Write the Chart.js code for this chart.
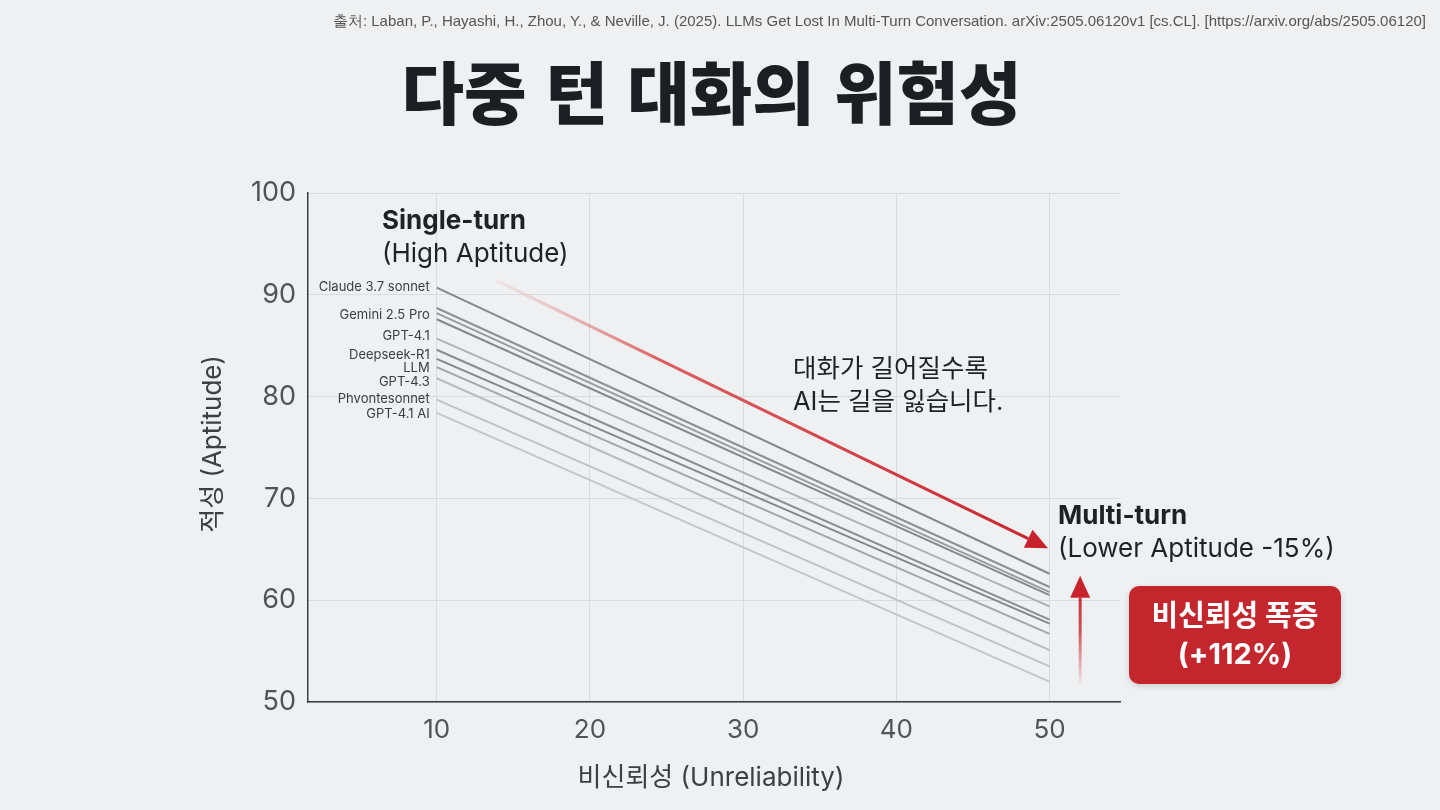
<!DOCTYPE html>
<html lang="ko">
<head>
<meta charset="utf-8">
<script src="https://cdn.jsdelivr.net/npm/chart.js@4.4.1/dist/chart.umd.min.js"></script>
<style>
  body { margin: 0; width: 1440px; height: 810px; overflow: hidden; background: #eef0f2;
         font-family: Inter, "Noto Sans CJK KR", sans-serif; position: relative; }
  canvas { position: absolute; left: 0; top: 0; }
  .txt { position: absolute; white-space: nowrap; color: #1e2125; }
  .source { right: 14px; top: 12px; font: 15px "Liberation Sans", sans-serif; color: #555; }
  .title { left: 0; width: 1423px; top: 55px; text-align: center; font: 900 68px/70px "Noto Sans CJK KR", sans-serif; color: #1b1e22; }
  .note { font-size: 26px; line-height: 33px; }
  .note b { font-weight: 700; }
  .kr { font-size: 25.5px; line-height: 33px; }
  .badge { position: absolute; left: 1129px; top: 586px; width: 212px; height: 98px; border-radius: 10px;
           background: #c4262e; color: #fff; text-align: center; font: 700 29px/38px Inter, "Noto Sans CJK KR", sans-serif;
           box-shadow: 0 2px 6px rgba(0,0,0,0.15); padding-top: 11px; box-sizing: border-box; }
</style>
</head>
<body>
<canvas id="chart" width="1440" height="810"></canvas>

<div class="txt source">출처: Laban, P., Hayashi, H., Zhou, Y., &amp; Neville, J. (2025). LLMs Get Lost In Multi-Turn Conversation. arXiv:2505.06120v1 [cs.CL]. [https://arxiv.org/abs/2505.06120]</div>
<div class="txt title">다중 턴 대화의 위험성</div>
<div class="txt note" style="left:382px; top:203px"><b>Single-turn</b><br>(High Aptitude)</div>
<div class="txt kr" style="left:793px; top:351px">대화가 길어질수록<br>AI는 길을 잃습니다.</div>
<div class="txt note" style="left:1058px; top:498px"><b>Multi-turn</b><br>(Lower Aptitude -15%)</div>
<div class="badge">비신뢰성 폭증<br>(+112%)</div>

<script>
const xTicks = [10, 20, 30, 40, 50]
const yTicks = [50, 60, 70, 80, 90, 100]
const turns = [10, 50]
const singleTurn = [90.7, 88.7, 88.2, 87.6, 85.7, 84.6, 83.7, 82.9, 81.8, 79.7, 78.4]
const multiTurn = [62.6, 61.3, 60.8, 60.5, 59.4, 58.1, 57.7, 56.7, 55.1, 53.5, 52.0]
const modelNames = ["Claude 3.7 sonnet", "Gemini 2.5 Pro", "GPT-4.1", "Deepseek-R1", "LLM", "GPT-4.3", "Phvontesonnet", "GPT-4.1 AI"]
const modelLabelY = [90.8, 88.0, 85.9, 84.1, 82.8, 81.4, 79.8, 78.3]
const trendFrom = [13.9, 91.4]
const trendTo = [49.9, 65.1]
const riseFrom = [52.0, 51.9]
const riseTo = [52.0, 62.4]

const lineShade = ["#86888b", "#8e9093", "#999b9e", "#86888b", "#aeb0b3", "#8a8c8f",
                   "#84868a", "#a3a5a8", "#b8babd", "#c0c2c5", "#c4c6c9"]

const RED = "#c8232c"

function drawArrow(c, x1, y1, x2, y2, grad) {
  const a = Math.atan2(y2 - y1, x2 - x1)
  const head = 22, half = 10
  const bx = x2 - head * Math.cos(a), by = y2 - head * Math.sin(a)
  c.strokeStyle = grad
  c.lineWidth = 3
  c.beginPath()
  c.moveTo(x1, y1)
  c.lineTo(bx, by)
  c.stroke()
  c.fillStyle = RED
  c.beginPath()
  c.moveTo(x2, y2)
  c.lineTo(bx + half * Math.sin(a), by - half * Math.cos(a))
  c.lineTo(bx - half * Math.sin(a), by + half * Math.cos(a))
  c.closePath()
  c.fill()
}

const extras = {
  id: "extras",
  afterDraw(chart) {
    const c = chart.ctx
    const xs = chart.scales.x, ys = chart.scales.y
    c.save()

    // axis titles
    c.fillStyle = "#3c4045"
    c.font = "26px Inter, 'Noto Sans CJK KR'"
    c.textAlign = "center"
    c.textBaseline = "middle"
    c.fillText("비신뢰성 (Unreliability)", (chart.chartArea.left + chart.chartArea.right) / 2 - 3, 778)
    c.save()
    c.translate(213, 444)
    c.rotate(-Math.PI / 2)
    c.fillText("적성 (Aptitude)", 0, 0)
    c.restore()

    // model labels
    c.font = "13px Inter, 'Noto Sans CJK KR'"
    c.fillStyle = "#3a3d41"
    c.textAlign = "right"
    modelNames.forEach((name, i) => {
      c.fillText(name, xs.getPixelForValue(turns[0]) - 7, ys.getPixelForValue(modelLabelY[i]))
    })

    // diagonal trend arrow
    const x1 = xs.getPixelForValue(trendFrom[0]), y1 = ys.getPixelForValue(trendFrom[1])
    const x2 = xs.getPixelForValue(trendTo[0]), y2 = ys.getPixelForValue(trendTo[1])
    const g = c.createLinearGradient(x1, y1, x2, y2)
    g.addColorStop(0, "rgba(235,140,140,0.1)")
    g.addColorStop(0.3, "rgba(215,70,70,0.85)")
    g.addColorStop(1, RED)
    drawArrow(c, x1, y1, x2, y2, g)

    // vertical rise arrow
    const vx = xs.getPixelForValue(riseFrom[0])
    const vy1 = ys.getPixelForValue(riseFrom[1]), vy2 = ys.getPixelForValue(riseTo[1])
    const g2 = c.createLinearGradient(vx, vy1, vx, vy2)
    g2.addColorStop(0, "rgba(200,35,44,0.05)")
    g2.addColorStop(0.5, "rgba(200,35,44,0.8)")
    g2.addColorStop(1, RED)
    drawArrow(c, vx, vy1, vx, vy2, g2)

    c.restore()
  }
}

Chart.defaults.font.family = "Inter, 'Noto Sans CJK KR', sans-serif"

new Chart(document.getElementById("chart"), {
  type: "line",
  data: {
    datasets: singleTurn.map((s, i) => ({
      data: [{ x: turns[0], y: s }, { x: turns[1], y: multiTurn[i] }],
      borderColor: lineShade[i],
      borderWidth: 2,
      pointRadius: 0,
      tension: 0,
    })),
  },
  options: {
    responsive: false,
    animation: false,
    layout: { padding: { top: 193, right: 320, left: 0, bottom: 0 } },
    plugins: { legend: { display: false }, tooltip: { enabled: false } },
    scales: {
      x: {
        type: "linear",
        min: 1.6,
        max: 54.6,
        afterBuildTicks: (s) => { s.ticks = xTicks.map((v) => ({ value: v })) },
        afterFit: (s) => { s.height = 108 },
        grid: { color: "#d9dcdf", drawTicks: false },
        border: { color: "#3a3d41", width: 1.5 },
        ticks: { padding: 13, color: "#4f5459", font: { size: 26 } },
      },
      y: {
        min: 50,
        max: 100,
        afterBuildTicks: (s) => { s.ticks = yTicks.map((v) => ({ value: v })) },
        afterFit: (s) => { s.width = 308 },
        grid: { color: "#d9dcdf", drawTicks: false },
        border: { color: "#3a3d41", width: 1.5 },
        ticks: { padding: 12, color: "#4f5459", font: { size: 27 } },
      },
    },
  },
  plugins: [extras],
})
</script>
</body>
</html>
